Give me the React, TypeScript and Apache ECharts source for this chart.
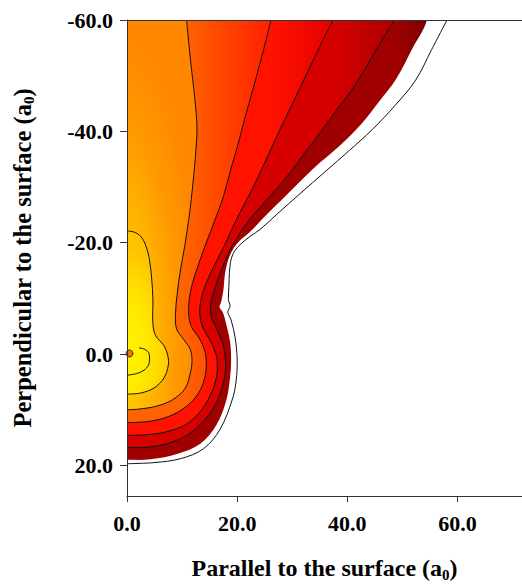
import React, { useEffect, useRef } from 'react';
import * as echarts from 'echarts';

type P = [number, number];

// axis ticks
const xTickValues = [0, 20, 40, 60];
const yTickValues = [-60, -40, -20, 0, 20];

// contour lines, [parallel, perpendicular] in a0
const nucleus: P[] = [[0.45, -0.1]];
const crescent: P[] = [[2.2, -1.1], [3.1, -0.9], [3.9, -0.3], [4.1, 0.8], [3.9, 2.0], [3.1, 2.9], [1.8, 3.5], [0, 3.8]];
const contourC: P[] = [
  [0, -22.1], [1.3, -21.9], [2.5, -21.1], [3.4, -19.5], [4.1, -16.8], [4.5, -13.3], [4.7, -9.8], [4.7, -5.4],
  [5.2, -3.3], [6.7, -1.5], [7.4, 0.3], [7.5, 2.0], [6.7, 4.3], [4.9, 6.1], [2.5, 7.0], [0, 7.2],
];
const contourD: P[] = [
  [10.8, -60.2], [11.5, -53.0], [12.3, -45.9], [12.7, -40.6], [12.4, -35.3], [11.9, -30.0], [11.4, -25.6],
  [10.5, -19.5], [9.7, -15.1], [9.1, -10.7], [8.8, -7.1], [9.0, -4.5], [10.3, -2.6], [11.5, -0.8], [11.8, 1.3],
  [11.5, 3.4], [10.6, 6.1], [8.3, 8.2], [5.2, 9.4], [2.0, 9.9], [0, 10.0],
];
const contourE: P[] = [
  [26.2, -60.2], [24.8, -54.7], [22.9, -47.7], [21.4, -42.4], [20.0, -37.1], [18.7, -32.7], [17.5, -28.3],
  [15.9, -23.9], [14.2, -19.5], [12.8, -15.6], [11.8, -12.4], [11.3, -9.8], [11.2, -7.1], [11.7, -4.9],
  [13.2, -2.7], [14.1, -0.6], [14.4, 1.7], [14.1, 4.3], [13.0, 7.0], [10.8, 9.4], [7.6, 11.2], [4.0, 12.1], [0, 12.3],
];
const contourF: P[] = [
  [37.5, -60.2], [33.9, -53.0], [30.5, -45.9], [27.9, -40.6], [25.6, -35.7], [23.8, -31.8], [22.2, -28.6],
  [20.9, -26.2], [19.3, -23.0], [17.7, -19.5], [15.9, -16.0], [14.4, -12.8], [13.5, -10.1], [13.2, -7.5],
  [13.7, -4.9], [15.1, -2.4], [16.1, -0.1], [16.4, 2.0], [16.2, 4.3], [15.3, 7.0], [13.5, 10.1], [10.8, 12.6],
  [7.0, 14.0], [3.4, 14.5], [0, 14.6],
];
const contourG: P[] = [
  [48.7, -60.2], [45.8, -55.6], [43.4, -51.5], [40.7, -47.3], [38.0, -43.8], [35.0, -39.7], [32.3, -36.2],
  [29.7, -32.7], [27.0, -29.5], [24.3, -26.5], [22.2, -24.1], [20.4, -21.6], [18.9, -19.1], [17.7, -16.5],
  [16.6, -13.7], [15.7, -11.0], [15.2, -8.9], [15.3, -6.8], [16.2, -4.7], [17.3, -2.2], [17.8, 0.3], [17.9, 2.6],
  [17.5, 5.2], [16.4, 8.4], [14.2, 11.7], [11.2, 14.4], [7.6, 16.0], [4.0, 16.7], [0, 16.8],
];
const colourEdge: P[] = [
  [54.5, -60.2], [51.7, -54.7], [48.8, -49.3], [45.8, -45.4], [42.7, -41.5], [38.6, -37.4], [33.7, -33.2],
  [29.0, -28.6], [25.1, -24.8], [22.3, -21.9], [20.5, -20.4], [19.3, -18.9], [18.4, -17.0], [17.8, -14.5],
  [17.5, -11.5], [17.1, -9.4], [16.8, -8.4], [17.4, -7.5], [18.0, -5.4], [18.7, -2.2], [18.9, 1.0], [18.7, 4.3],
  [18.0, 8.4], [16.2, 12.8], [13.3, 16.1], [9.2, 17.9], [4.3, 18.9], [0, 19.0],
];
const outerLine: P[] = [
  [58.2, -60.2], [55.3, -54.7], [52.4, -49.2], [48.7, -44.7], [44.5, -40.3], [40.4, -36.6], [35.9, -32.7],
  [31.4, -28.8], [27.2, -25.1], [24.3, -22.5], [22.3, -21.1], [20.7, -19.8], [19.6, -18.6], [18.9, -17.0],
  [18.6, -14.7], [18.5, -12.1], [18.4, -9.8], [18.7, -8.6], [18.3, -7.5], [18.9, -6.1], [19.6, -3.1], [20.0, 1.0],
  [19.8, 4.9], [19.1, 8.2], [16.9, 13.5], [13.9, 17.0], [9.7, 18.8], [4.9, 19.5], [0, 19.7],
];

const FONT = '"Liberation Serif", "Times New Roman", serif';
const SMOOTH = 0.35;
const X_MAX = 71.7;
const Y_MAX = 25.5;

type FillFn = (api: any, ring: number[][]) => any;

function regionSeries(pts: P[], fill: FillFn, z: number, closing: 'top' | 'axis') {
  return {
    type: 'custom',
    coordinateSystem: 'cartesian2d',
    clip: true,
    silent: true,
    z,
    data: pts,
    renderItem: (params: any, api: any) => {
      if (params.dataIndex !== 0) return null;
      const first = pts[0];
      const last = pts[pts.length - 1];
      const ring: P[] = closing === 'top'
        ? [...pts, [-6, last[1]], [-6, -66], [first[0], -66]]
        : [...pts, [-6, last[1]], [-6, first[1]]];
      const points = ring.map((p) => api.coord(p));
      return { type: 'polygon', shape: { points, smooth: SMOOTH }, style: { fill: fill(api, points) } };
    },
  };
}

function lineSeries(pts: P[], z: number) {
  return {
    type: 'custom',
    coordinateSystem: 'cartesian2d',
    clip: true,
    silent: true,
    z,
    data: pts,
    renderItem: (params: any, api: any) => {
      if (params.dataIndex !== 0) return null;
      return {
        type: 'polyline',
        shape: { points: pts.map((p) => api.coord(p)), smooth: SMOOTH },
        style: { stroke: '#111', lineWidth: 1, fill: 'none' },
      };
    },
  };
}

// horizontal colour ramp across a band, between the x where its two bounding contours meet the top edge
const bandFill = (inner: P[], outer: P[], c1: string, c2: string): FillFn => (api) => {
  const a = api.coord([inner[0][0], -60])[0];
  const b = api.coord([outer[0][0], -60])[0];
  return new echarts.graphic.LinearGradient(a, 0, b, 0, [
    { offset: 0, color: c1 },
    { offset: 1, color: c2 },
  ], true);
};

// elliptical ramp (bounding-box units) centred on the source
const sourceFill = (cy: number, r: number, stops: [number, string][]): FillFn => (api, ring) => {
  const xs = ring.map((p) => p[0]);
  const ys = ring.map((p) => p[1]);
  const minX = Math.min(...xs), maxX = Math.max(...xs), minY = Math.min(...ys), maxY = Math.max(...ys);
  const c = api.coord([0, cy]);
  return new echarts.graphic.RadialGradient(
    (c[0] - minX) / (maxX - minX), (c[1] - minY) / (maxY - minY), r,
    stops.map(([offset, color]) => ({ offset, color })), false,
  );
};

export default function App() {
  const ref = useRef<HTMLDivElement>(null);
  useEffect(() => {
    if (!ref.current) return;
    const chart = echarts.init(ref.current, undefined, { renderer: 'svg' });
    const labelStyle = { fontFamily: FONT, fontWeight: 'bold', fontSize: 22, color: '#000' };
    const nameStyle = {
      fontFamily: FONT, fontWeight: 'bold', fontSize: 24, color: '#000', lineHeight: 28,
      rich: { sub: { fontFamily: FONT, fontWeight: 'bold', fontSize: 15, color: '#000', verticalAlign: 'bottom', lineHeight: 14 } },
    };
    const axisLineStyle = { color: '#333', width: 1 };
    chart.setOption({
      animation: false,
      backgroundColor: '#fff',
      grid: { left: 126, right: -2, top: 20, bottom: 82 },
      xAxis: [
        {
          type: 'value', min: 0, max: X_MAX, interval: 20, z: 10,
          axisLine: { show: true, onZero: false, lineStyle: axisLineStyle },
          axisTick: { show: true, length: 6, lineStyle: axisLineStyle, customValues: xTickValues },
          axisLabel: { ...labelStyle, margin: 16, customValues: xTickValues, formatter: (v: number) => v.toFixed(1) },
          splitLine: { show: false },
          name: 'Parallel to the surface (a{sub|0})',
          nameLocation: 'middle', nameGap: 58, nameTextStyle: nameStyle,
        },
        {
          type: 'value', position: 'top', min: 0, max: X_MAX, z: 10,
          axisLine: { show: true, onZero: false, lineStyle: axisLineStyle },
          axisTick: { show: false }, axisLabel: { show: false }, splitLine: { show: false },
        },
      ],
      yAxis: {
        type: 'value', min: -60, max: Y_MAX, interval: 20, inverse: true, z: 10,
        axisLine: { show: true, onZero: false, lineStyle: axisLineStyle },
        axisTick: { show: true, length: 7, lineStyle: axisLineStyle, customValues: yTickValues },
        axisLabel: { ...labelStyle, margin: 14, customValues: yTickValues, formatter: (v: number) => v.toFixed(1) },
        splitLine: { show: false },
        name: 'Perpendicular to the surface (a{sub|0})',
        nameLocation: 'middle', nameGap: 91, nameTextStyle: { ...nameStyle, fontSize: 24.5 },
      },
      series: [
        regionSeries(colourEdge, bandFill(contourG, colourEdge, '#A00000', '#7C0000'), 2, 'top'),
        regionSeries(contourG, bandFill(contourF, contourG, '#D60000', '#AC0000'), 2, 'top'),
        regionSeries(contourF, bandFill(contourE, contourF, '#FF1200', '#E40000'), 2, 'top'),
        regionSeries(contourE, bandFill(contourD, contourE, '#FF6200', '#FF2000'), 2, 'top'),
        regionSeries(contourD, sourceFill(-2, 0.7, [[0, '#FFD400'], [0.3, '#FFC200'], [0.5, '#FFB000'], [0.72, '#FF9A00'], [1, '#FF8800']]), 2, 'top'),
        regionSeries(contourC, sourceFill(-1, 0.6, [[0, '#FFF400'], [0.4, '#FFEC00'], [0.75, '#FFD800'], [1, '#FFC400']]), 2, 'axis'),
        lineSeries(contourC, 3),
        lineSeries(contourD, 3),
        lineSeries(contourE, 3),
        lineSeries(contourF, 3),
        lineSeries(contourG, 3),
        lineSeries(outerLine, 3),
        lineSeries(crescent, 3),
        {
          type: 'scatter', data: nucleus, z: 4, symbol: 'circle', symbolSize: 7, silent: true,
          itemStyle: { color: '#E8501A', borderColor: '#111', borderWidth: 1 },
        },
      ],
    });
    return () => chart.dispose();
  }, []);
  return <div ref={ref} style={{ position: 'absolute', left: 0, top: 0, width: 522, height: 587 }} />;
}
